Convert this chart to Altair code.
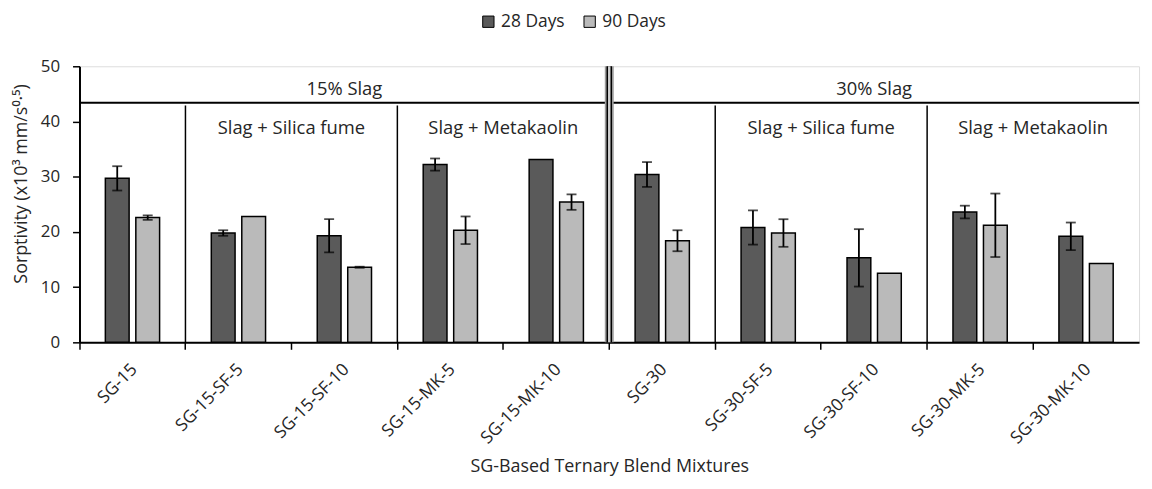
import altair as alt
import pandas as pd

categories = ["SG-15", "SG-15-SF-5", "SG-15-SF-10", "SG-15-MK-5", "SG-15-MK-10",
              "SG-30", "SG-30-SF-5", "SG-30-SF-10", "SG-30-MK-5", "SG-30-MK-10"]
ages = ["28 Days", "90 Days"]
val28 = [29.7, 19.8, 19.3, 32.2, 33.1, 30.4, 20.8, 15.3, 23.6, 19.2]
err28 = [2.2, 0.5, 3.0, 1.1, 0.0, 2.25, 3.1, 5.2, 1.15, 2.5]
val90 = [22.6, 22.8, 13.6, 20.3, 25.4, 18.4, 19.8, 12.5, 21.2, 14.3]
err90 = [0.4, 0.0, 0.1, 2.5, 1.4, 1.9, 2.5, 0.0, 5.75, 0.0]

separator_cats = ["SG-15-SF-5", "SG-15-MK-5", "SG-30-SF-5", "SG-30-MK-5"]
separator_top = 43.4
divider_cat = ["SG-30"]
main_labels = ["15% Slag", "30% Slag"]
main_label_cats = ["SG-15-SF-10", "SG-30-SF-10"]
main_label_y = 45.9
sub_labels = ["Slag + Silica fume", "Slag + Metakaolin", "Slag + Silica fume", "Slag + Metakaolin"]
sub_label_cats = ["SG-15-SF-10", "SG-15-MK-10", "SG-30-SF-10", "SG-30-MK-10"]
sub_label_y = 38.8

FONT = "Open Sans"
TXT = "#262626"
DARK = "#5a5a5a"
LIGHT = "#bababa"

rows = []
for c, v, e in zip(categories, val28, err28):
    rows.append({"cat": c, "age": ages[0], "val": v, "err": e})
for c, v, e in zip(categories, val90, err90):
    rows.append({"cat": c, "age": ages[1], "val": v, "err": e})
df = pd.DataFrame(rows)
df["lo"] = df["val"] - df["err"]
df["hi"] = df["val"] + df["err"]
df_err = df[df["err"] > 0]

W, H = 1067, 278

xscale = alt.Scale(domain=categories, paddingInner=0, paddingOuter=0)
xaxis = alt.Axis(bandPosition=0, labels=False, tickSize=7, tickColor="black",
                 tickWidth=1.5, domainColor="black", domainWidth=2,
                 titleFont=FONT, titleFontSize=18, titleFontWeight="normal",
                 titleColor=TXT, titleY=125, titleBaseline="middle")
XTITLE = "SG-Based Ternary Blend Mixtures"
yscale = alt.Scale(domain=[0, 50], nice=False)
yaxis = alt.Axis(values=[0, 10, 20, 30, 40, 50], grid=False, tickSize=7, tickColor="black",
                 tickWidth=1.5, domainColor="black", domainWidth=2, labelFont=FONT,
                 labelFontSize=17, labelColor=TXT, labelPadding=13,
                 title="Sorptivity (x10³ mm/s⁰·⁵)", titleFont=FONT, titleFontSize=18,
                 titleFontWeight="normal", titleColor=TXT, titleX=-58, titleY=118,
                 titleAngle=270, titleAlign="center", titleBaseline="middle")
xo = alt.XOffset("age:N", sort=ages, scale=alt.Scale(paddingInner=0.22, paddingOuter=0.848))

X = alt.X("cat:N", sort=categories, scale=xscale, axis=xaxis, title=XTITLE)
Xs = alt.X("cat:N", sort=categories, scale=xscale, axis=xaxis, title=XTITLE, bandPosition=0)

bars = alt.Chart(df).mark_bar(stroke="black", strokeWidth=1.5).encode(
    x=X,
    xOffset=xo,
    y=alt.Y("val:Q", scale=yscale, axis=yaxis),
    color=alt.Color("age:N", sort=ages,
                    scale=alt.Scale(domain=ages, range=[DARK, LIGHT]),
                    legend=alt.Legend(orient="none", legendX=403, legendY=-54, direction="horizontal",
                                      title=None, symbolType="square", symbolSize=130,
                                      symbolStrokeColor="black", symbolStrokeWidth=1,
                                      labelFont=FONT, labelFontSize=17.5, labelColor=TXT,
                                      columnPadding=16, labelOffset=4)),
)

err_rule = alt.Chart(df_err).mark_rule(color="black", strokeWidth=1.8).encode(
    x=X, xOffset=xo, y=alt.Y("lo:Q", scale=yscale, axis=yaxis), y2="hi:Q")
cap_lo = alt.Chart(df_err).mark_tick(color="black", thickness=1.8, size=10).encode(
    x=X, xOffset=xo, y=alt.Y("lo:Q", scale=yscale, axis=yaxis))
cap_hi = alt.Chart(df_err).mark_tick(color="black", thickness=1.8, size=10).encode(
    x=X, xOffset=xo, y=alt.Y("hi:Q", scale=yscale, axis=yaxis))

sep_df = pd.DataFrame({"cat": separator_cats, "y0": [0] * len(separator_cats),
                       "y1": [separator_top - 0.5] * len(separator_cats)})
seps = alt.Chart(sep_df).mark_rule(color="black", strokeWidth=1.5).encode(
    x=Xs, y=alt.Y("y0:Q", scale=yscale, axis=yaxis), y2="y1:Q")

hdr_df = pd.DataFrame({"y": [separator_top]})
hdr = alt.Chart(hdr_df).mark_rule(color="black", strokeWidth=2).encode(
    x=alt.value(0), x2=alt.value({"expr": "width"}), y=alt.Y("y:Q", scale=yscale, axis=yaxis))

div_df = pd.DataFrame({"cat": divider_cat, "y0": [0], "y1": [50]})
div_layers = []
for sw, col in [(9, "#9a9a9a"), (5.5, "black"), (2.5, "#d0d0d0")]:
    div_layers.append(alt.Chart(div_df).mark_rule(color=col, strokeWidth=sw).encode(
        x=Xs, y=alt.Y("y0:Q", scale=yscale, axis=yaxis), y2="y1:Q"))

main_df = pd.DataFrame({"cat": main_label_cats, "txt": main_labels, "y": [main_label_y] * 2})
main_txt = alt.Chart(main_df).mark_text(font=FONT, fontSize=18.5, color=TXT, baseline="middle").encode(
    x=X, y=alt.Y("y:Q", scale=yscale, axis=yaxis), text="txt:N")

sub_df = pd.DataFrame({"cat": sub_label_cats, "txt": sub_labels, "y": [sub_label_y] * 4})
sub_txt = alt.Chart(sub_df).mark_text(font=FONT, fontSize=18.5, color=TXT, baseline="middle").encode(
    x=Xs, y=alt.Y("y:Q", scale=yscale, axis=yaxis), text="txt:N")

lab_df = pd.DataFrame({"cat": categories})
xlabels = alt.Chart(lab_df).mark_text(font=FONT, fontSize=17.5, color=TXT, angle=315,
                                      align="right", baseline="middle", dx=3).encode(
    x=X, y=alt.value({"expr": "height + 27"}), text="cat:N")

chart = alt.layer(bars, err_rule, cap_lo, cap_hi, seps, hdr, *div_layers, main_txt, sub_txt, xlabels).properties(
    width=W, height=H,
    autosize=alt.AutoSizeParams(type="none"),
    padding={"left": 72, "top": 57, "right": 5, "bottom": 146},
).configure_view(stroke="black", strokeWidth=2).configure(background="white")

chart.save("out.html", embed_options={"renderer": "svg", "actions": False})
